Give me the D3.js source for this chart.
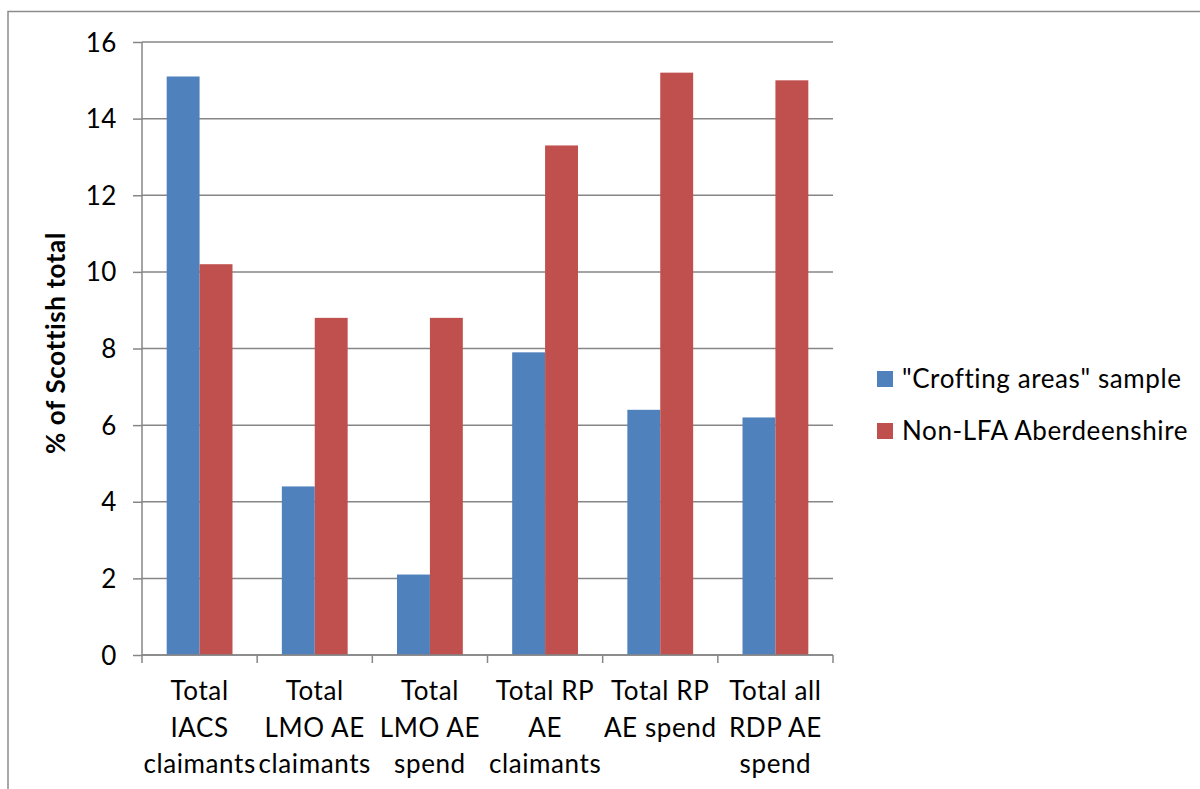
<!DOCTYPE html>
<html>
<head>
<meta charset="utf-8">
<script src="https://cdn.jsdelivr.net/npm/d3@7"></script>
<style>
  html, body { margin: 0; padding: 0; background: #fff; }
  svg { display: block; }
  text { font-family: Lato, "Open Sans", sans-serif; fill: #000; letter-spacing: 0.6px; }
</style>
</head>
<body>
<svg id="chart" width="1200" height="789"></svg>
<script>
// Category labels, one entry per wrapped line
const categories = [
  ["Total", "IACS", "claimants"],
  ["Total", "LMO AE", "claimants"],
  ["Total", "LMO AE", "spend"],
  ["Total RP", "AE", "claimants"],
  ["Total RP", "AE spend"],
  ["Total all", "RDP AE", "spend"]
];
const seriesNames = ["\"Crofting areas\" sample", "Non-LFA Aberdeenshire"];
const crofting = [15.1, 4.4, 2.1, 7.9, 6.4, 6.2];
const nonLfa = [10.2, 8.8, 8.8, 13.3, 15.2, 15.0];
const yTicks = [0, 2, 4, 6, 8, 10, 12, 14, 16];
const colors = ["#4f81bd", "#c0504d"];

const svg = d3.select("#chart");
const plot = { left: 142, right: 833, top: 42, bottom: 655 };
const gridColor = "#868686";

// outer chart frame
svg.append("rect")
  .attr("x", 8).attr("y", 11.5)
  .attr("width", 1220).attr("height", 820)
  .attr("fill", "none").attr("stroke", "#8c8c8c").attr("stroke-width", 1.5);

const idx = categories.map((d, i) => i);
const x = d3.scaleBand().domain(idx).range([plot.left, plot.right]).paddingInner(0).paddingOuter(0);
const y = d3.scaleLinear().domain([0, 16]).range([plot.bottom, plot.top]);

// group width split: two bars plus 150% gap
const barW = x.bandwidth() / 3.5;
const sub = d3.scaleBand().domain([0, 1]).range([0, barW * 2]);

// y tick marks and labels
const yAxis = d3.axisLeft(y).tickValues(yTicks).tickSize(9).tickPadding(16)
  .tickFormat(d3.format("d"));
const gy = svg.append("g").attr("transform", `translate(${plot.left},0)`).call(yAxis);
gy.select(".domain").remove();
gy.selectAll(".tick line").attr("stroke", gridColor).attr("stroke-width", 1.5);
gy.selectAll(".tick text").attr("font-size", 26).style("font-family", "Lato, sans-serif").attr("dy", "0.35em");

// horizontal gridlines
svg.append("g").selectAll("line").data(yTicks).join("line")
  .attr("x1", plot.left).attr("x2", plot.right)
  .attr("y1", d => y(d)).attr("y2", d => y(d))
  .attr("stroke", gridColor).attr("stroke-width", 1.5);

// bars
const series = [crofting, nonLfa];
series.forEach((vals, s) => {
  svg.append("g").selectAll("rect").data(vals).join("rect")
    .attr("x", (d, i) => x(i) + (x.bandwidth() - barW * 2) / 2 + sub(s))
    .attr("y", d => y(d))
    .attr("width", sub.bandwidth())
    .attr("height", d => y(0) - y(d))
    .attr("fill", colors[s]);
});

// y axis line
svg.append("line")
  .attr("x1", plot.left).attr("x2", plot.left)
  .attr("y1", plot.top).attr("y2", plot.bottom)
  .attr("stroke", gridColor).attr("stroke-width", 1.5);

// x axis with category boundary ticks
const bounds = idx.concat([idx.length]).map(i => plot.left + i * x.step());
svg.append("line")
  .attr("x1", plot.left).attr("x2", plot.right)
  .attr("y1", plot.bottom).attr("y2", plot.bottom)
  .attr("stroke", gridColor).attr("stroke-width", 1.5);
svg.append("g").selectAll("line").data(bounds).join("line")
  .attr("x1", d => d).attr("x2", d => d)
  .attr("y1", plot.bottom).attr("y2", plot.bottom + 8)
  .attr("stroke", gridColor).attr("stroke-width", 1.5);

// wrapped category labels
const lab = svg.append("g").selectAll("text").data(categories).join("text")
  .attr("text-anchor", "middle")
  .attr("font-size", 26)
  .attr("transform", (d, i) => `translate(${x(i) + x.bandwidth() / 2},0)`);
lab.selectAll("tspan").data(d => d).join("tspan")
  .attr("x", 0)
  .attr("y", (d, j) => 700 + j * 36.5)
  .text(d => d);

// y axis title
svg.append("text")
  .attr("transform", "translate(65,343) rotate(-90)")
  .attr("text-anchor", "middle")
  .attr("font-size", 26)
  .attr("font-weight", "bold")
  .text("% of Scottish total");

// legend
const leg = svg.append("g").selectAll("g").data(seriesNames).join("g")
  .attr("transform", (d, i) => `translate(877,${379 + i * 52})`);
leg.append("rect").attr("x", 0).attr("y", -8).attr("width", 16).attr("height", 16)
  .attr("fill", (d, i) => colors[i]);
leg.append("text").attr("x", 25).attr("y", 0).attr("dy", "0.35em")
  .attr("font-size", 26).text(d => d);
</script>
</body>
</html>
